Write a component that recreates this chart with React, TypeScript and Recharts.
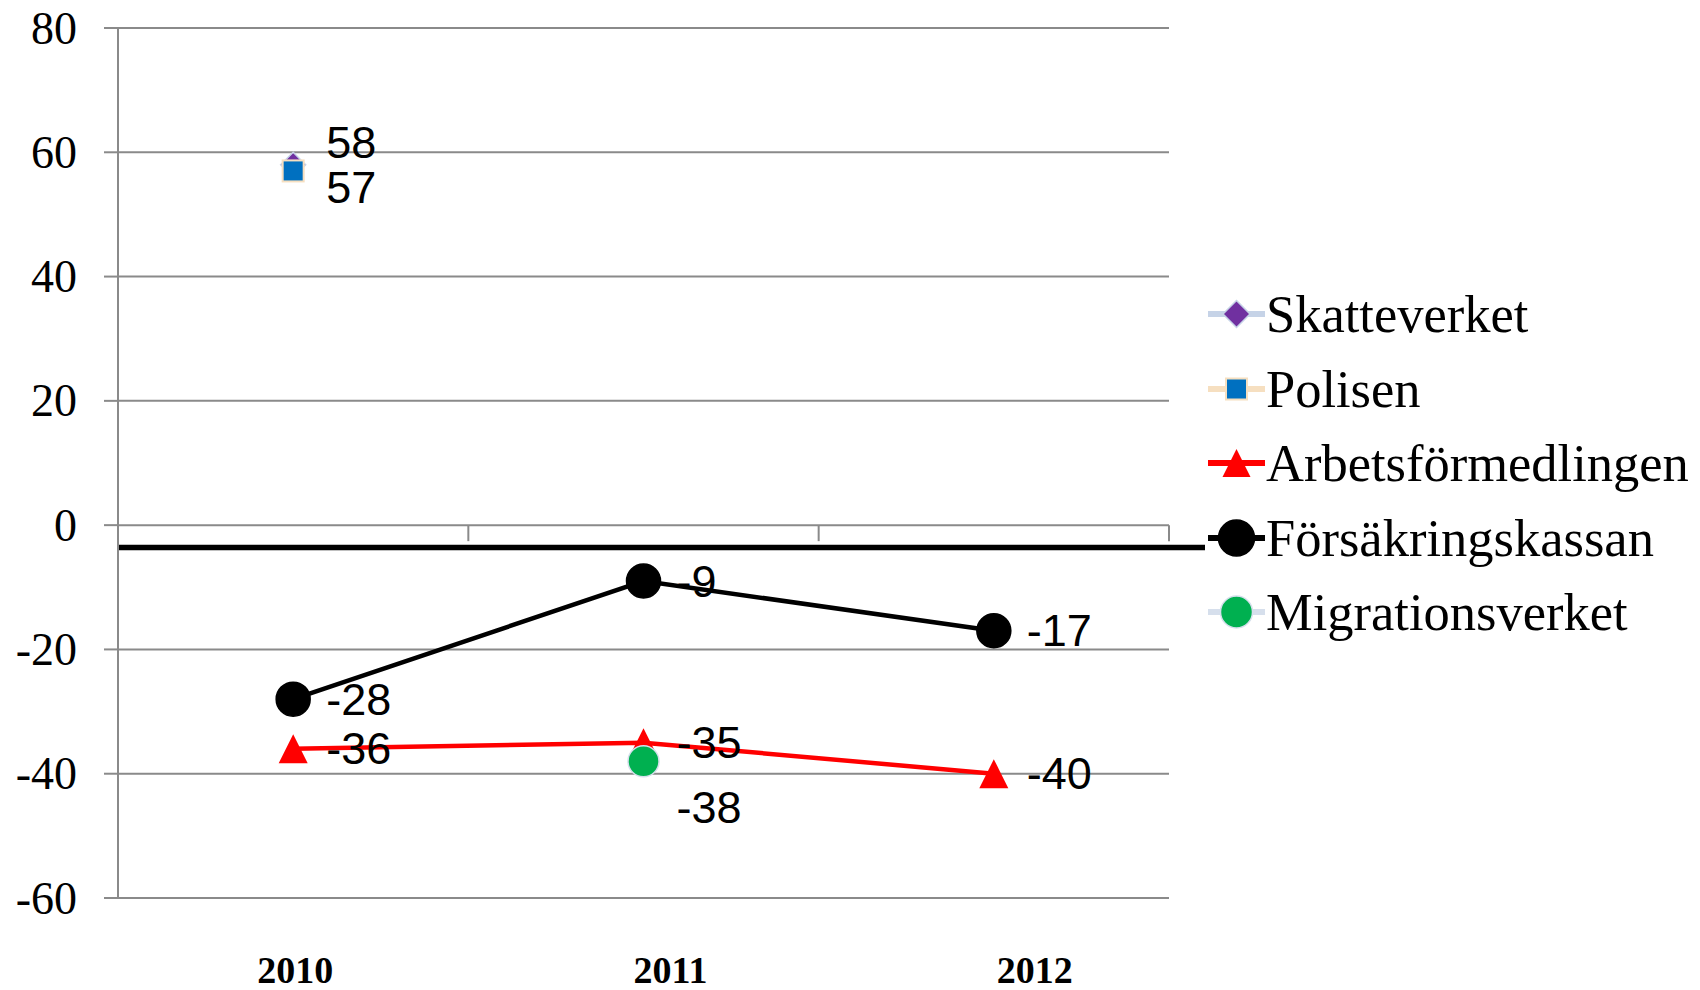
import React from "react";
import {
  LineChart,
  Line,
  XAxis,
  YAxis,
  CartesianGrid,
  ReferenceLine,
  LabelList,
  Legend,
} from "recharts";

const years = ["2010", "2011", "2012"];
const skatteverket = [58, null, null];
const polisen = [57, null, null];
const arbetsformedlingen = [-36, -35, -40];
const forsakringskassan = [-28, -9, -17];
const migrationsverket = [null, -38, null];
const yTicks = [-60, -40, -20, 0, 20, 40, 60, 80];
const dividerValue = -3.6;

const serif = '"Liberation Serif", "Times New Roman", serif';
const sans = '"Liberation Sans", Arial, sans-serif';
const gridColor = "#8A8A8A";

// shifts of the year labels, as in the original slide
const yearLabelShift = [2, 27, 41];

type Shape = "diamond" | "square" | "triangle" | "circle";

const series = [
  { key: "skatteverket", name: "Skatteverket", values: skatteverket, line: "#C6D3E7", fill: "#7030A0", edge: "#C6D3E7", shape: "diamond" as Shape, size: 12.5, legendSize: 13.5, width: 3, labelDy: -22 },
  { key: "polisen", name: "Polisen", values: polisen, line: "#F6DFC0", fill: "#0070C0", edge: "#F6DFC0", shape: "square" as Shape, size: 10.5, legendSize: 10.5, width: 3, labelDy: 17 },
  { key: "arbetsformedlingen", name: "Arbetsförmedlingen", values: arbetsformedlingen, line: "#FF0000", fill: "#FF0000", edge: "#FF0000", shape: "triangle" as Shape, size: 14.5, legendSize: 14, width: 4.5, labelDy: 0 },
  { key: "forsakringskassan", name: "Försäkringskassan", values: forsakringskassan, line: "#000000", fill: "#000000", edge: "#000000", shape: "circle" as Shape, size: 17, legendSize: 18, width: 4.5, labelDy: 0 },
  { key: "migrationsverket", name: "Migrationsverket", values: migrationsverket, line: "#D6DFEC", fill: "#00B050", edge: "#D6DFEC", shape: "circle" as Shape, size: 15.5, legendSize: 16, width: 3, labelDy: 46 },
];

const data = years.map((year, i) => {
  const row: Record<string, any> = { year };
  series.forEach((s) => {
    row[s.key] = s.values[i];
  });
  return row;
});

const Marker = ({ shape, cx, cy, size, fill, edge }: any) => {
  if (shape === "diamond") {
    return (
      <polygon
        points={`${cx},${cy - size} ${cx + size},${cy} ${cx},${cy + size} ${cx - size},${cy}`}
        fill={fill}
        stroke={edge}
        strokeWidth={1.5}
      />
    );
  }
  if (shape === "square") {
    return <rect x={cx - size} y={cy - size} width={size * 2} height={size * 2} fill={fill} stroke={edge} strokeWidth={2} />;
  }
  if (shape === "triangle") {
    return (
      <polygon
        points={`${cx},${cy - size} ${cx + size},${cy + size} ${cx - size},${cy + size}`}
        fill={fill}
      />
    );
  }
  return <circle cx={cx} cy={cy} r={size} fill={fill} stroke={edge} strokeWidth={1.5} />;
};

const YearTick = ({ x, y, payload, index }: any) => (
  <text
    x={x + (yearLabelShift[index] || 0)}
    y={y}
    dy={72}
    textAnchor="middle"
    dominantBaseline="central"
    fontFamily={serif}
    fontWeight="bold"
    fontSize={38}
    fill="#000"
  >
    {payload.value}
  </text>
);

const ValueTick = ({ x, y, payload }: any) => (
  <text
    x={x}
    y={y}
    textAnchor="end"
    dominantBaseline="central"
    fontFamily={serif}
    fontSize={46}
    fill="#000"
  >
    {payload.value}
  </text>
);

// x axis crosses at 0: tick marks hang below the zero gridline at category borders
const ZeroAxisTicks = (props: any) => {
  const { x1, x2, y1 } = props;
  if (x1 == null || y1 == null) return null;
  const step = (x2 - x1) / years.length;
  return (
    <g>
      {years.concat([""]).map((_, i) => (
        <line key={i} x1={x1 + i * step} x2={x1 + i * step} y1={y1} y2={y1 + 16} stroke={gridColor} strokeWidth={2} />
      ))}
    </g>
  );
};

const DividerLine = (props: any) => {
  const { x1, x2, y1 } = props;
  if (x1 == null || y1 == null) return null;
  return <line x1={x1} x2={x2 + 36} y1={y1} y2={y1} stroke="#000" strokeWidth={5.5} />;
};

const LegendContent = () => (
  <div style={{ fontFamily: serif, fontSize: 52.5, color: "#000" }}>
    {series.map((s) => (
      <div key={s.key} style={{ display: "flex", alignItems: "center", height: 74.5, lineHeight: "74.5px", whiteSpace: "nowrap" }}>
        <svg width={58} height={74} style={{ flex: "none" }}>
          <line x1={0} x2={57} y1={37} y2={37} stroke={s.line} strokeWidth={6} />
          <Marker shape={s.shape} cx={28.5} cy={37} size={s.legendSize} fill={s.fill} edge={s.edge} />
        </svg>
        <span>{s.name}</span>
      </div>
    ))}
  </div>
);

const App: React.FC = () => {
  return (
    <div style={{ position: "absolute", left: 0, top: 0, width: 1700, height: 990, background: "#fff" }}>
      <LineChart width={1700} height={990} data={data} margin={{ top: 28, right: 531, bottom: 31, left: 0 }}>
        <CartesianGrid vertical={false} stroke={gridColor} strokeWidth={2} />
        <XAxis
          dataKey="year"
          scale="band"
          axisLine={false}
          tickLine={false}
          tickSize={0}
          tickMargin={0}
          height={61}
          interval={0}
          tick={<YearTick />}
        />
        <YAxis
          domain={[-60, 80]}
          ticks={yTicks}
          interval={0}
          width={118}
          stroke={gridColor}
          strokeWidth={2}
          tickSize={14}
          tickMargin={27}
          tick={<ValueTick />}
        />
        <ReferenceLine y={0} stroke="none" shape={<ZeroAxisTicks />} />
        <ReferenceLine y={dividerValue} shape={<DividerLine />} />
        {series.map((s) => (
          <Line
            key={s.key}
            dataKey={s.key}
            name={s.name}
            stroke={s.line}
            strokeWidth={s.width}
            isAnimationActive={false}
            activeDot={false}
            dot={(p: any) =>
              p.cy == null || p.value == null ? (
                <g key={p.index} />
              ) : (
                <Marker key={p.index} shape={s.shape} cx={p.cx} cy={p.cy} size={s.size} fill={s.fill} edge={s.edge} />
              )
            }
          >
            <LabelList
              dataKey={s.key}
              content={(p: any) =>
                p.value == null || p.y == null ? null : (
                  <text
                    x={p.x + 33}
                    y={p.y + s.labelDy}
                    dominantBaseline="central"
                    fontFamily={sans}
                    fontSize={45}
                    fill="#000"
                  >
                    {p.value}
                  </text>
                )
              }
            />
          </Line>
        ))}
        <Legend
          layout="horizontal"
          verticalAlign="middle"
          align="center"
          width={492}
          content={<LegendContent />}
          wrapperStyle={{ position: "absolute", left: 1208, top: 277, width: 492, height: 380 }}
        />
      </LineChart>
    </div>
  );
};

export default App;
